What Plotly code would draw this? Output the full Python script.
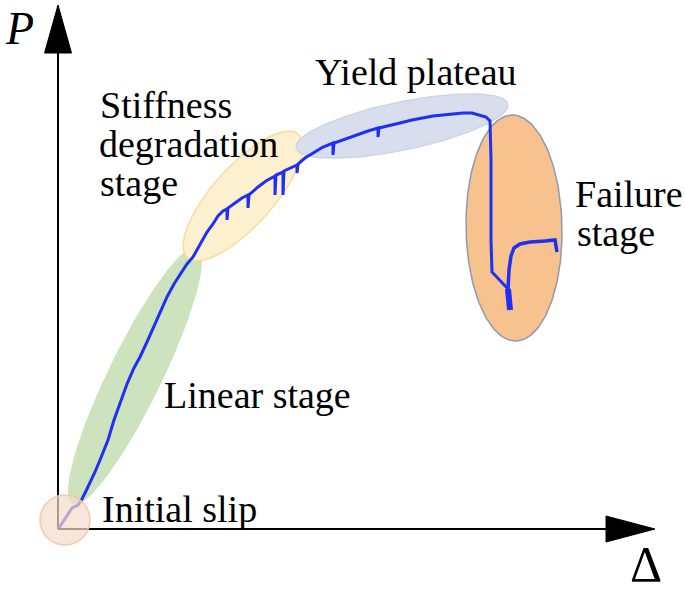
import numpy as np
import plotly.graph_objects as go

# Load–slip curve (Δ, P) in drawing units; short vertical excursions are unloading dips
delta = [1, 5, 9, 14, 20, 24, 28, 32, 37, 42, 46, 50, 56, 62, 69, 76, 82, 89, 96, 102,
         109, 116, 123, 129, 135, 142, 149, 155, 160, 165, 169, 169,
         170, 177, 184, 190, 190, 191, 200, 208, 217, 217, 218, 225, 225, 226, 234, 239,
         239, 240, 247, 257, 265, 275, 275, 276, 287, 299, 310, 320, 320, 321, 332, 342,
         354, 365, 375, 385, 395, 405, 414, 422, 428, 432, 433, 433, 433, 434, 442, 450]
load = [1, 7, 14, 21, 24, 30, 38, 46, 57, 69, 79, 89, 109, 126, 145, 161, 172, 187, 203, 216,
        232, 245, 256, 265, 272, 285, 297, 305, 313, 318, 320, 309,
        321, 326, 331, 334, 321, 334, 342, 348, 353, 334, 354, 357, 334, 358, 362, 364,
        356, 365, 371, 377, 382, 386, 374, 386, 390, 394, 398, 401, 392, 401, 404, 406,
        409, 411, 413, 414, 415, 416, 416, 414, 412, 408, 369, 329, 289, 257, 248, 240]

# Final crushing segment and the residual-capacity branch after failure
tail_delta = [450, 451, 452]
tail_load = [240, 230, 219]
branch_delta = [450, 451, 453, 456, 462, 472, 487, 497, 498, 499]
branch_load = [240, 259, 273, 281, 285, 287, 288, 289, 283, 277]

# Stage regions: centre, semi-axes, rotation (deg), fill, outline
stages = [
    dict(cx=77, cy=153, a=142, b=26, ang=64, fill="#cde3bd", line="#cde3bd"),
    dict(cx=185, cy=333, a=83, b=30, ang=48, fill="#fdf0cf", line="#f8dc9c"),
    dict(cx=344, cy=403, a=108, b=24, ang=11.7, fill="#d8deee", line="#ccd4e6"),
    dict(cx=456, cy=301, a=113, b=48, ang=91, fill="#f7c28e", line="#8c9cb0"),
]
slip_zone = dict(cx=7, cy=9, a=25, b=25, ang=0, fill="rgba(246,219,202,0.7)", line="#f3c9aa")

# Labels: text, left x, vertical centre, size
labels = [
    ("Stiffness", 40, 424, 38),
    ("degradation", 39, 385, 38),
    ("stage", 40, 346, 38),
    ("Yield plateau", 255, 457, 38),
    ("Linear stage", 104, 134, 38),
    ("Failure", 515, 335, 38),
    ("stage", 517, 296, 38),
    ("Initial slip", 42, 20, 38),
]

BLUE = "#1e30f2"


def ellipse(p, n=160):
    t = np.linspace(0, 2 * np.pi, n)
    th = np.radians(p["ang"])
    u, v = p["a"] * np.cos(t), p["b"] * np.sin(t)
    return (p["cx"] + u * np.cos(th) - v * np.sin(th),
            p["cy"] + u * np.sin(th) + v * np.cos(th))


fig = go.Figure()

for p in stages:
    ex, ey = ellipse(p)
    fig.add_trace(go.Scatter(x=ex, y=ey, mode="lines", fill="toself",
                             fillcolor=p["fill"], line=dict(color=p["line"], width=1.5),
                             hoverinfo="skip", showlegend=False))

fig.add_trace(go.Scatter(x=delta, y=load, mode="lines",
                         line=dict(color=BLUE, width=3), showlegend=False))
fig.add_trace(go.Scatter(x=tail_delta, y=tail_load, mode="lines",
                         line=dict(color=BLUE, width=6), showlegend=False))
fig.add_trace(go.Scatter(x=branch_delta, y=branch_load, mode="lines",
                         line=dict(color=BLUE, width=3.5), showlegend=False))

ex, ey = ellipse(slip_zone)
fig.add_trace(go.Scatter(x=ex, y=ey, mode="lines", fill="toself",
                         fillcolor=slip_zone["fill"], line=dict(color=slip_zone["line"], width=1.5),
                         hoverinfo="skip", showlegend=False))

# Axes with arrowheads
shapes = [
    dict(type="line", x0=0, y0=0, x1=0, y1=480, line=dict(color="black", width=2), layer="below"),
    dict(type="line", x0=0, y0=0, x1=552, y1=0, line=dict(color="black", width=2), layer="below"),
    dict(type="path", path="M 0 524 L -13.5 476 L 13.5 476 Z", fillcolor="black",
         line=dict(color="black", width=1), layer="below"),
    dict(type="path", path="M 597 0 L 548 13 L 548 -13 Z", fillcolor="black",
         line=dict(color="black", width=1), layer="below"),
]

annotations = []
for text, x, y, size in labels:
    annotations.append(dict(x=x, y=y, text=text, showarrow=False, xanchor="left",
                            yanchor="middle",
                            font=dict(family="Liberation Serif", size=size, color="black")))
annotations.append(dict(x=-39, y=501, text="P", showarrow=False, xanchor="center",
                        yanchor="middle",
                        font=dict(family="Liberation Serif", size=46, color="black",
                                  style="italic")))
annotations.append(dict(x=588, y=-65, text="Δ", showarrow=False, xanchor="center",
                        yanchor="bottom",
                        font=dict(family="Liberation Serif", size=50, color="black")))

fig.update_layout(
    width=685, height=595, margin=dict(l=0, r=0, t=0, b=0),
    paper_bgcolor="white", plot_bgcolor="white",
    xaxis=dict(range=[-58, 627], visible=False, fixedrange=True),
    yaxis=dict(range=[-66, 529], visible=False, fixedrange=True),
    shapes=shapes, annotations=annotations, showlegend=False,
)

fig.write_html("out.html")
